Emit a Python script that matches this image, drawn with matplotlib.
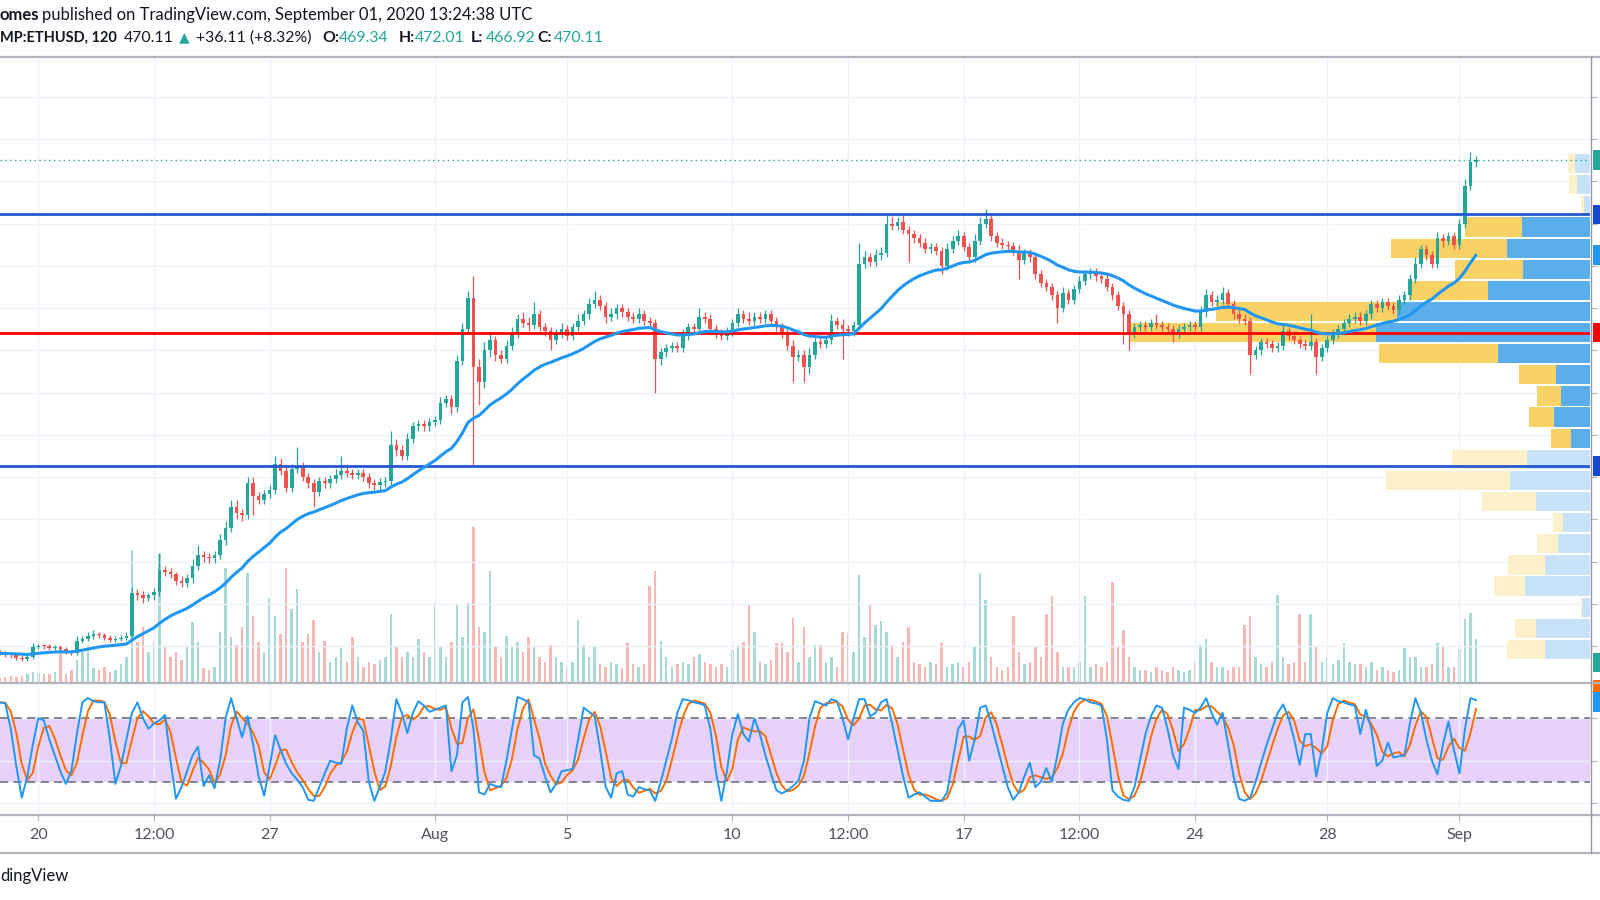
import matplotlib
matplotlib.use("Agg")
import matplotlib.pyplot as plt
import matplotlib.transforms as mtransforms
from matplotlib.lines import Line2D
from matplotlib.patches import Rectangle
import numpy as np
import pandas as pd

close = [
    236.5, 236, 235.5, 234.5, 234, 235, 239.5, 240, 239.8, 239, 239.3, 238.5, 237, 236.5, 242.5, 243.5, 244.5, 245.5, 245, 244,
    243, 243.5, 244, 244.5, 265, 264, 262.5, 264, 265.5, 276, 275, 274, 271, 270, 272, 278, 283, 282, 281.5, 283,
    290, 296, 306, 303, 302, 317, 311, 309, 312, 314, 326, 323, 315, 324, 325, 320, 317, 313, 318, 317,
    319, 321, 323, 322, 321, 322, 320, 317, 316, 317.5, 318, 335, 333, 330, 338, 344, 345, 344, 346, 347,
    355, 357, 353, 375, 390, 405, 372, 365, 380, 385, 378, 376, 382, 388, 395, 393, 392, 397, 391, 389,
    385, 388, 390, 387, 391, 394, 397, 402, 404, 401, 396, 397, 400, 398, 396, 395, 397, 394, 393, 376,
    379, 381, 382, 381, 387, 391, 390, 396, 395, 390, 388, 387, 389, 393, 397, 395, 394, 396, 395, 397,
    394, 391, 388, 382, 377, 378, 372, 378, 384, 383, 385, 394, 392, 390, 389, 392, 421, 424, 422, 425,
    426, 440, 439, 441, 437, 435, 433, 431, 428, 429, 427, 420, 428, 432, 434, 429, 424, 432, 440, 442,
    434, 431, 430, 429.5, 427, 423, 426, 424, 416, 412, 410, 406, 400, 407, 404, 409, 413, 416, 417, 415,
    414, 410, 406, 401, 397, 388, 391, 392, 391, 393, 392, 391, 390, 388, 390, 391, 392, 391, 398, 406,
    403, 404, 407, 402, 397, 395, 394, 378, 380, 384, 383, 381, 382, 389, 387, 385, 383, 382, 384, 377,
    381, 385, 388, 390, 393, 395, 396, 394, 397, 402, 400, 403, 401, 399, 404, 406, 414, 421, 428, 425,
    421, 433, 432, 434, 430, 440, 458, 469, 470.11,
]
first_open = 237.0
# how far each wick reaches beyond the body (USD)
wick_hi = [
    1, 1, 1, 1, 1, 1, 2, 1, 1, 1, 1, 1, 1, 1, 2, 1, 2, 2, 1, 1,
    1, 1, 1, 2, 3, 2, 2, 1, 2, 8, 2, 2, 1, 2, 2, 3, 5, 2, 2, 2,
    3, 3, 3, 3, 2, 3, 3, 2, 2, 2, 4, 3, 2, 2, 9, 2, 2, 2, 2, 2,
    2, 3, 7, 2, 2, 2, 2, 2, 2, 2, 2, 7, 3, 2, 3, 2, 2, 2, 2, 2,
    3, 2, 2, 3, 3, 3, 10, 4, 4, 3, 2, 2, 3, 3, 2, 3, 3, 6, 2, 2,
    2, 2, 3, 2, 2, 3, 2, 3, 4, 2, 2, 3, 2, 2, 2, 2, 3, 2, 2, 2,
    2, 2, 2, 2, 3, 2, 2, 4, 2, 2, 2, 2, 2, 2, 3, 2, 3, 2, 2, 2,
    2, 2, 2, 2, 3, 2, 2, 3, 2, 2, 2, 3, 2, 3, 2, 2, 10, 3, 2, 3,
    3, 4, 3, 2, 3, 2, 2, 2, 2, 2, 2, 2, 3, 2, 3, 2, 2, 3, 3, 5,
    2, 2, 2, 2, 2, 3, 2, 2, 2, 2, 2, 2, 2, 3, 2, 2, 2, 2, 2, 2,
    2, 2, 2, 2, 2, 2, 2, 2, 2, 2, 4, 2, 2, 2, 2, 2, 2, 2, 3, 3,
    2, 2, 3, 2, 2, 2, 2, 2, 2, 2, 2, 2, 2, 3, 2, 2, 2, 2, 13, 2,
    2, 2, 2, 2, 2, 2, 2, 2, 2, 2, 2, 2, 2, 2, 2, 2, 2, 3, 2, 2,
    2, 3, 2, 2, 2, 2, 3, 5, 2,
]
wick_lo = [
    1, 1, 1, 1, 1, 1, 1, 1, 1, 1, 1, 1, 1, 1, 1, 1, 1, 1, 1, 1,
    1, 1, 1, 1, 2, 2, 2, 1, 2, 2, 2, 2, 2, 2, 2, 2, 2, 2, 2, 2,
    2, 2, 2, 3, 3, 2, 9, 2, 2, 2, 2, 2, 2, 2, 2, 2, 2, 7, 2, 2,
    2, 2, 2, 2, 2, 2, 2, 2, 2, 2, 2, 2, 3, 2, 2, 2, 2, 2, 2, 2,
    2, 2, 3, 2, 2, 2, 47, 11, 3, 3, 3, 2, 2, 2, 2, 2, 3, 2, 2, 2,
    5, 2, 2, 2, 2, 2, 2, 2, 2, 2, 3, 2, 2, 2, 2, 2, 2, 2, 2, 16,
    3, 2, 2, 2, 2, 2, 2, 2, 2, 2, 2, 2, 2, 2, 2, 2, 2, 2, 2, 2,
    2, 2, 2, 2, 12, 2, 7, 3, 2, 2, 2, 2, 2, 14, 2, 2, 2, 2, 2, 2,
    2, 2, 2, 2, 2, 13, 2, 2, 2, 2, 2, 4, 2, 2, 2, 2, 2, 2, 2, 2,
    2, 2, 2, 2, 2, 9, 2, 2, 2, 2, 2, 2, 7, 2, 2, 2, 2, 2, 2, 2,
    2, 2, 2, 2, 14, 8, 2, 2, 2, 2, 2, 2, 2, 4, 2, 2, 2, 2, 2, 2,
    2, 2, 2, 2, 2, 2, 2, 9, 2, 2, 2, 2, 2, 2, 2, 2, 2, 2, 2, 8,
    2, 2, 2, 2, 2, 2, 2, 2, 2, 2, 2, 2, 2, 2, 2, 2, 2, 2, 2, 2,
    2, 2, 3, 2, 2, 2, 2, 2, 2,
]
volume = [
    4, 5, 6, 5, 6, 8, 10, 9, 8, 8, 10, 34, 8, 12, 22, 30, 37, 14, 12, 15,
    10, 12, 18, 25, 132, 40, 55, 30, 40, 128, 35, 25, 30, 22, 35, 60, 40, 14, 12, 15,
    50, 114, 45, 37, 55, 109, 66, 40, 30, 84, 66, 48, 114, 73, 93, 40, 48, 62, 30, 41,
    20, 25, 34, 20, 45, 25, 15, 20, 18, 22, 25, 68, 35, 25, 30, 25, 43, 30, 25, 79,
    35, 25, 40, 77, 45, 79, 155, 55, 50, 111, 35, 25, 46, 35, 40, 30, 45, 35, 25, 20,
    37, 25, 20, 15, 20, 62, 37, 25, 36, 18, 15, 20, 18, 14, 39, 18, 15, 18, 96, 111,
    41, 25, 15, 18, 20, 18, 25, 28, 20, 18, 15, 18, 15, 32, 37, 40, 77, 50, 20, 18,
    22, 39, 39, 30, 64, 20, 55, 25, 37, 37, 20, 25, 15, 50, 48, 30, 107, 45, 77, 57,
    61, 50, 37, 25, 40, 55, 20, 18, 15, 20, 18, 39, 15, 18, 20, 15, 20, 35, 109, 82,
    25, 15, 12, 15, 66, 30, 18, 20, 36, 25, 68, 86, 30, 15, 15, 15, 20, 86, 15, 18,
    15, 20, 100, 36, 52, 25, 15, 12, 12, 10, 15, 12, 10, 15, 12, 10, 12, 20, 37, 43,
    20, 15, 15, 12, 15, 15, 57, 66, 25, 18, 15, 20, 87, 25, 18, 20, 68, 20, 68, 36,
    20, 25, 18, 22, 39, 20, 18, 18, 15, 20, 12, 15, 12, 10, 12, 34, 25, 25, 15, 15,
    18, 39, 35, 15, 15, 33, 63, 69, 43,
]
stoch_k = [
    95, 94, 70, 35, 5, 25, 55, 80, 78, 60, 45, 30, 18, 30, 65, 95, 99, 96, 95, 95,
    60, 18, 35, 60, 85, 95, 80, 70, 75, 78, 83, 40, 4, 15, 30, 45, 53, 16, 26, 14,
    40, 80, 99, 80, 62, 82, 55, 25, 7, 35, 64, 50, 37, 28, 22, 15, 3, 2, 15, 28,
    40, 38, 37, 70, 92, 76, 68, 20, 2, 15, 30, 60, 98, 85, 66, 85, 96, 92, 86, 88,
    90, 92, 30, 45, 95, 100, 70, 10, 8, 18, 16, 15, 40, 70, 100, 98, 95, 45, 42, 25,
    10, 18, 30, 31, 32, 60, 90, 86, 82, 50, 15, 5, 28, 30, 8, 6, 15, 13, 12, 2,
    20, 40, 60, 85, 98, 97, 95, 94, 92, 70, 30, 2, 30, 65, 84, 65, 58, 80, 65, 45,
    28, 12, 9, 12, 16, 21, 40, 80, 96, 94, 92, 98, 96, 80, 60, 80, 98, 98, 82, 85,
    95, 98, 75, 50, 25, 5, 8, 10, 6, 2, 2, 2, 10, 40, 70, 78, 40, 60, 90, 92,
    75, 55, 35, 15, 3, 10, 25, 38, 15, 20, 33, 20, 45, 75, 88, 95, 99, 98, 95, 94,
    92, 60, 12, 6, 3, 2, 15, 40, 65, 82, 92, 90, 70, 45, 32, 90, 88, 85, 90, 99,
    85, 74, 85, 55, 25, 4, 2, 5, 20, 38, 55, 70, 85, 93, 80, 60, 36, 65, 65, 25,
    50, 85, 99, 96, 95, 93, 92, 65, 88, 70, 35, 40, 57, 43, 44, 45, 75, 99, 85, 60,
    40, 27, 55, 77, 50, 28, 70, 99, 97,
]

# visible-range volume profile, 10 USD rows from the top (473.4) down
vp_top = 473.4
vp_step = 10.0
vp_up = [15, 13.4, 6, 68.4, 82.7, 67.4, 102.4, 192.7, 214.4, 91.7, 34.4, 29.4,
         35.7, 19.4, 62.7, 80, 54, 26.7, 32.4, 45, 65, 7.7, 54, 45]
vp_down = [6.7, 7.6, 3.4, 56.6, 116.7, 67.6, 78.3, 181, 245.3, 119.3, 36.6, 24,
           25, 19.6, 75, 124, 54.4, 10, 21, 36.7, 31, 1, 21, 38.4]
vp_value_area = (3, 13)   # first/last row index inside the value area

resistance = 444.4
pivot = 388.4
support = 325.2
last_price = 470.11

tick_days = [0, 3.5, 7, 12, 16, 21, 24.5, 28, 31.5, 35, 39, 43]   # days after Jul 20 00:00
tick_labels = ["20", "12:00", "27", "Aug", "5", "10", "12:00", "17", "12:00", "24", "28", "Sep"]

UP, DN = "#26A69A", "#EF5350"
FONT = ["Lato", "DejaVu Sans"]
plt.rcParams["font.family"] = FONT

W, H = 1600, 900


def fx(px):
    return px / W


def fy(py):
    return 1 - py / H


fig = plt.figure(figsize=(16, 9), dpi=100)
fig.patch.set_facecolor("white")

RIGHT = 1590
ax = fig.add_axes([0, fy(682), fx(RIGHT), fy(57) - fy(682)])
ax2 = fig.add_axes([0, fy(814), fx(RIGHT), fy(684) - fy(814)])

x_lo = -38.3 / 33.05
x_hi = (RIGHT - 38.3) / 33.05
t = -7 / 6 + np.arange(len(close)) / 6.0

c = np.array(close)
o = np.array([first_open] + close[:-1])
is_up = c >= o
hi = np.maximum(o, c) + np.array(wick_hi)
lo = np.minimum(o, c) - np.array(wick_lo)
col = np.where(is_up, UP, DN)

# volume overlay at the bottom of the price pane
axv = ax.twinx()
vcol = np.where(is_up, "#A8DAD5", "#F7B7B5")
axv.bar(t, volume, width=0.075, color=vcol, linewidth=0)
axv.set_ylim(0, max(volume) * 625 / 155)
axv.set_xlim(x_lo, x_hi)
axv.set_axis_off()
ax.set_zorder(axv.get_zorder() + 1)
ax.patch.set_visible(False)

ax.set_xlim(x_lo, x_hi)
ax.set_ylim(222.95, 518.9)
ax.set_yticks(np.arange(240, 520, 20))
ax.set_xticks(tick_days)
ax.grid(color="#EEF1F7", lw=1.0, zorder=0)
ax.set_axisbelow(True)
ax.yaxis.set_ticks_position("right")
ax.tick_params(axis="y", direction="out", length=5, color="#B2B5BE", labelright=False)
ax.tick_params(axis="x", length=0, labelbottom=False)
for s in ax.spines.values():
    s.set_visible(False)

# volume profile (anchored on the right edge)
tr_vp = mtransforms.blended_transform_factory(ax.transAxes, ax.transData)
tot = np.array(vp_up) + np.array(vp_down)
scale = 0.289 / tot.max()
for i, (u, d) in enumerate(zip(vp_up, vp_down)):
    bottom = vp_top - (i + 1) * vp_step + 0.45
    inside = vp_value_area[0] <= i <= vp_value_area[1]
    cb = "#5AAEEA" if inside else "#C8E3F8"
    cy = "#F9D266" if inside else "#FDF0CB"
    wu, wd = u * scale, d * scale
    ax.add_patch(Rectangle((1 - wu, bottom), wu, vp_step - 0.9, transform=tr_vp,
                           facecolor=cb, lw=0, zorder=1.5))
    ax.add_patch(Rectangle((1 - wu - wd, bottom), wd, vp_step - 0.9, transform=tr_vp,
                           facecolor=cy, lw=0, zorder=1.5))

# candles
ax.vlines(t, lo, hi, colors=col, lw=0.9, zorder=3)
ax.bar(t, np.maximum(np.abs(c - o), 0.5), bottom=np.minimum(o, c), width=0.11,
       color=col, linewidth=0, zorder=3.1)

ema = pd.Series(close).ewm(span=25, adjust=False).mean()
ax.axhline(resistance, color="#2457D0", lw=2.0, zorder=4)
ax.axhline(support, color="#2457D0", lw=2.0, zorder=4)
ax.axhline(pivot, color="#FF0000", lw=2.0, zorder=4)
ax.axhline(last_price, color="#26A69A", lw=1.0, ls=(0, (1, 2.5)), zorder=4)
ax.plot(t, ema, color="#2196F3", lw=2.2, zorder=5, solid_capstyle="round")

# stochastic RSI pane
stoch_d = pd.Series(stoch_k).rolling(3, min_periods=1).mean()
ax2.set_xlim(x_lo, x_hi)
ax2.set_ylim(-10.4, 112.3)
ax2.axhspan(20, 80, color="#E8D2FC", lw=0, zorder=0.2)
ax2.set_yticks([0, 40, 80])
ax2.set_xticks(tick_days)
ax2.grid(color="#EEF1F7", lw=1.0, zorder=0.3)
ax2.set_axisbelow(True)
for lvl in (80, 20):
    ax2.axhline(lvl, color="#787B86", lw=1.3, ls=(0, (4.5, 3)), zorder=1)
ax2.plot(t, stoch_k, color="#2196F3", lw=1.4, zorder=3)
ax2.plot(t, stoch_d, color="#FF6D00", lw=1.4, zorder=2.5)
ax2.yaxis.set_ticks_position("right")
ax2.tick_params(axis="y", direction="out", length=5, color="#B2B5BE", labelright=False)
ax2.tick_params(axis="x", direction="out", length=5, color="#B2B5BE", labelbottom=False)
for s in ax2.spines.values():
    s.set_visible(False)

tr_lab = mtransforms.blended_transform_factory(ax2.transData, fig.transFigure)
for d, lab in zip(tick_days, tick_labels):
    ax2.text(d, fy(835), lab, transform=tr_lab, ha="center", va="center",
             fontsize=11.5, color="#50535E", clip_on=False)

# pane borders
border = "#B2B5BE"
for yy in (57, 683, 815, 853):
    fig.add_artist(Line2D([0, 1], [fy(yy)] * 2, color=border, lw=1.6,
                          transform=fig.transFigure))
fig.add_artist(Line2D([fx(RIGHT + 1)] * 2, [fy(57), fy(853)], color="#9598A1", lw=1.0,
                      transform=fig.transFigure))

# clipped price-scale labels on the far right
tr_edge = mtransforms.blended_transform_factory(fig.transFigure, ax.transData)
half = 9.6 / 2.112
for price, cc in [(last_price, "#26A69A"), (resistance, "#1848CC"), (float(ema.iloc[-1]), "#2196F3"),
                  (pivot, "#FF0000"), (support, "#1848CC"), (232.0, "#26A69A")]:
    fig.add_artist(Rectangle((fx(1593), price - half), fx(7), 2 * half, transform=tr_edge,
                             facecolor=cc, lw=0, clip_on=False))
fig.add_artist(Rectangle((fx(1593), fy(692)), fx(7), fy(680) - fy(692), transform=fig.transFigure,
                         facecolor="#FF6D00", lw=0))
fig.add_artist(Rectangle((fx(1593), fy(712)), fx(7), fy(692) - fy(712), transform=fig.transFigure,
                         facecolor="#2196F3", lw=0))

# header
ink = "#131722"
fs = 12
fs2 = 11.4
fig.text(fx(0), fy(15.3), "omes", fontsize=fs, weight="bold", color=ink, va="center")
fig.text(fx(42.4), fy(15.3), "published on TradingView.com, September 01, 2020 13:24:38 UTC",
         fontsize=fs, color=ink, va="center")
row2 = [
    (0, "MP:ETHUSD, 120", ink, "bold", 10.5),
    (124, "470.11", ink, "normal", fs2),
    (196.4, "+36.11 (+8.32%)", ink, "normal", fs2),
    (322, "O:", ink, "bold", fs2),
    (339, "469.34", UP, "normal", fs2),
    (398.7, "H:", ink, "bold", fs2),
    (415, "472.01", UP, "normal", fs2),
    (471, "L:", ink, "bold", fs2),
    (485.7, "466.92", UP, "normal", fs2),
    (537, "C:", ink, "bold", fs2),
    (553.6, "470.11", UP, "normal", fs2),
]
for xx, txt, cc, wt, size in row2:
    fig.text(fx(xx), fy(38), txt, fontsize=size, color=cc, weight=wt, va="center")
fig.text(fx(184), fy(37), "\u25B2", fontsize=10, color=UP, va="center", ha="center",
         family="DejaVu Sans")
fig.text(fx(0), fy(876), "dingView", fontsize=fs, color=ink, va="center")

fig.savefig("out.png", dpi=100, facecolor="white")
